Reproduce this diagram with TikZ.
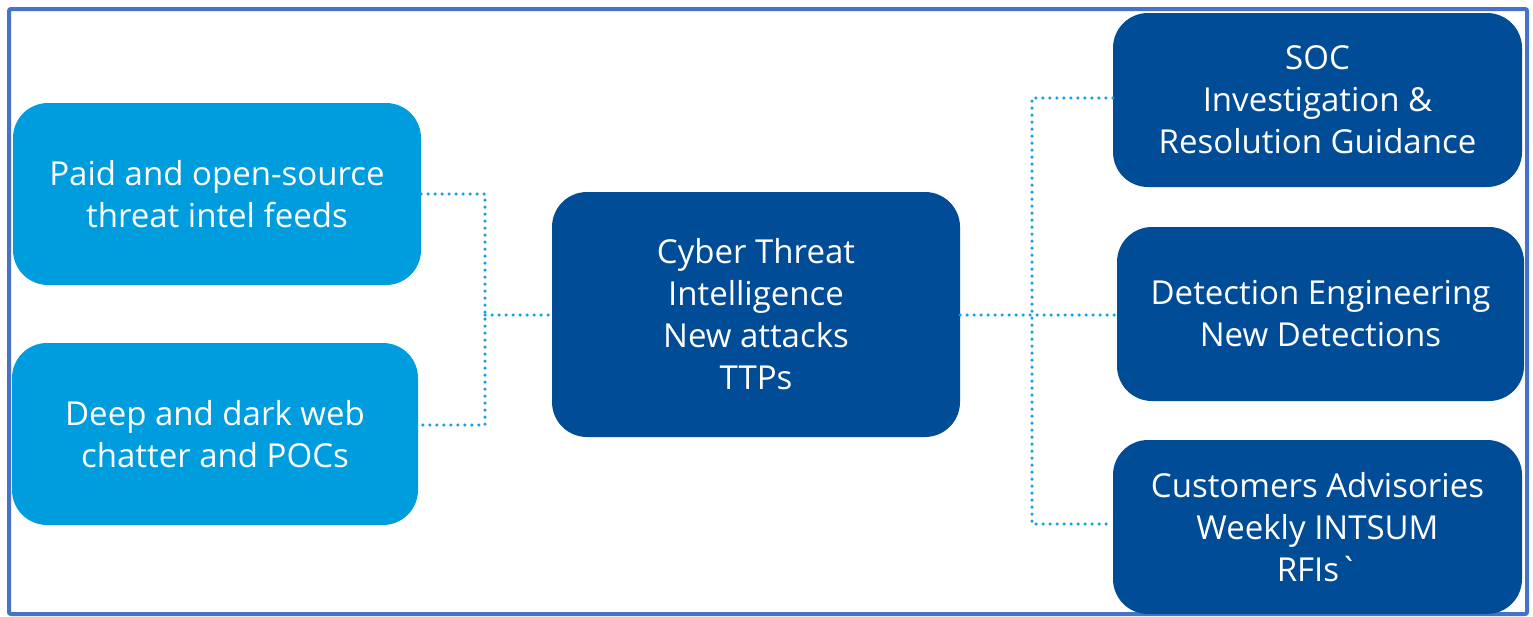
\documentclass[tikz,border=0pt]{standalone}
\usepackage{fontspec}
\setmainfont{Open Sans}[Ligatures=TeXOff]
\definecolor{lightb}{RGB}{0,157,222}
\definecolor{darkb}{RGB}{0,76,151}
\definecolor{framec}{RGB}{70,115,200}
\definecolor{dotc}{RGB}{20,160,225}
\tikzset{
  box/.style={rectangle, rounded corners=35pt, text=white, align=center,
    font=\fontsize{33}{42}\selectfont, inner sep=0pt},
  lbox/.style={box, fill=lightb},
  dbox/.style={box, fill=darkb},
  dotline/.style={draw=dotc, line width=3.5pt, line cap=round, dash pattern=on 0pt off 7pt}
}
\begin{document}
\begin{tikzpicture}[x=1pt,y=-1pt]
\useasboundingbox (0,0) rectangle (1533,616);
\fill[white] (0,0) rectangle (1533,616);
\draw[framec, line width=4pt, rounded corners=2pt] (9,9) rectangle (1527,614);

\node[lbox, minimum width=408pt, minimum height=182pt] (l1) at (217,194) {Paid and open-source\\threat intel feeds};
\node[lbox, minimum width=406pt, minimum height=182pt] (l2) at (215,434) {Deep and dark web\\chatter and POCs};
\node[dbox, minimum width=408pt, minimum height=245pt] (c) at (756,314.5) {Cyber Threat\\Intelligence\\New attacks\\TTPs};
\node[dbox, minimum width=409pt, minimum height=174pt] (r1) at (1317.5,100) {SOC\\Investigation \&\\Resolution Guidance};
\node[dbox, minimum width=407pt, minimum height=174pt] (r2) at (1320.5,314) {Detection Engineering\\New Detections};
\node[dbox, minimum width=409pt, minimum height=174pt] (r3) at (1317.5,527) {Customers Advisories\\Weekly INTSUM\\RFIs`};

\coordinate (jl) at (485,315);
\coordinate (jr) at (1032,315);
\draw[dotline] (l1.east) -| (jl) |- ([yshift=9pt]l2.east);
\draw[dotline] (jl) -- (jl -| c.west);
\draw[dotline] (c.east |- jr) -- (r2.west |- jr);
\draw[dotline] ([yshift=2pt]r1.west) -| (jr) |- ([yshift=3pt]r3.west);
\end{tikzpicture}
\end{document}
